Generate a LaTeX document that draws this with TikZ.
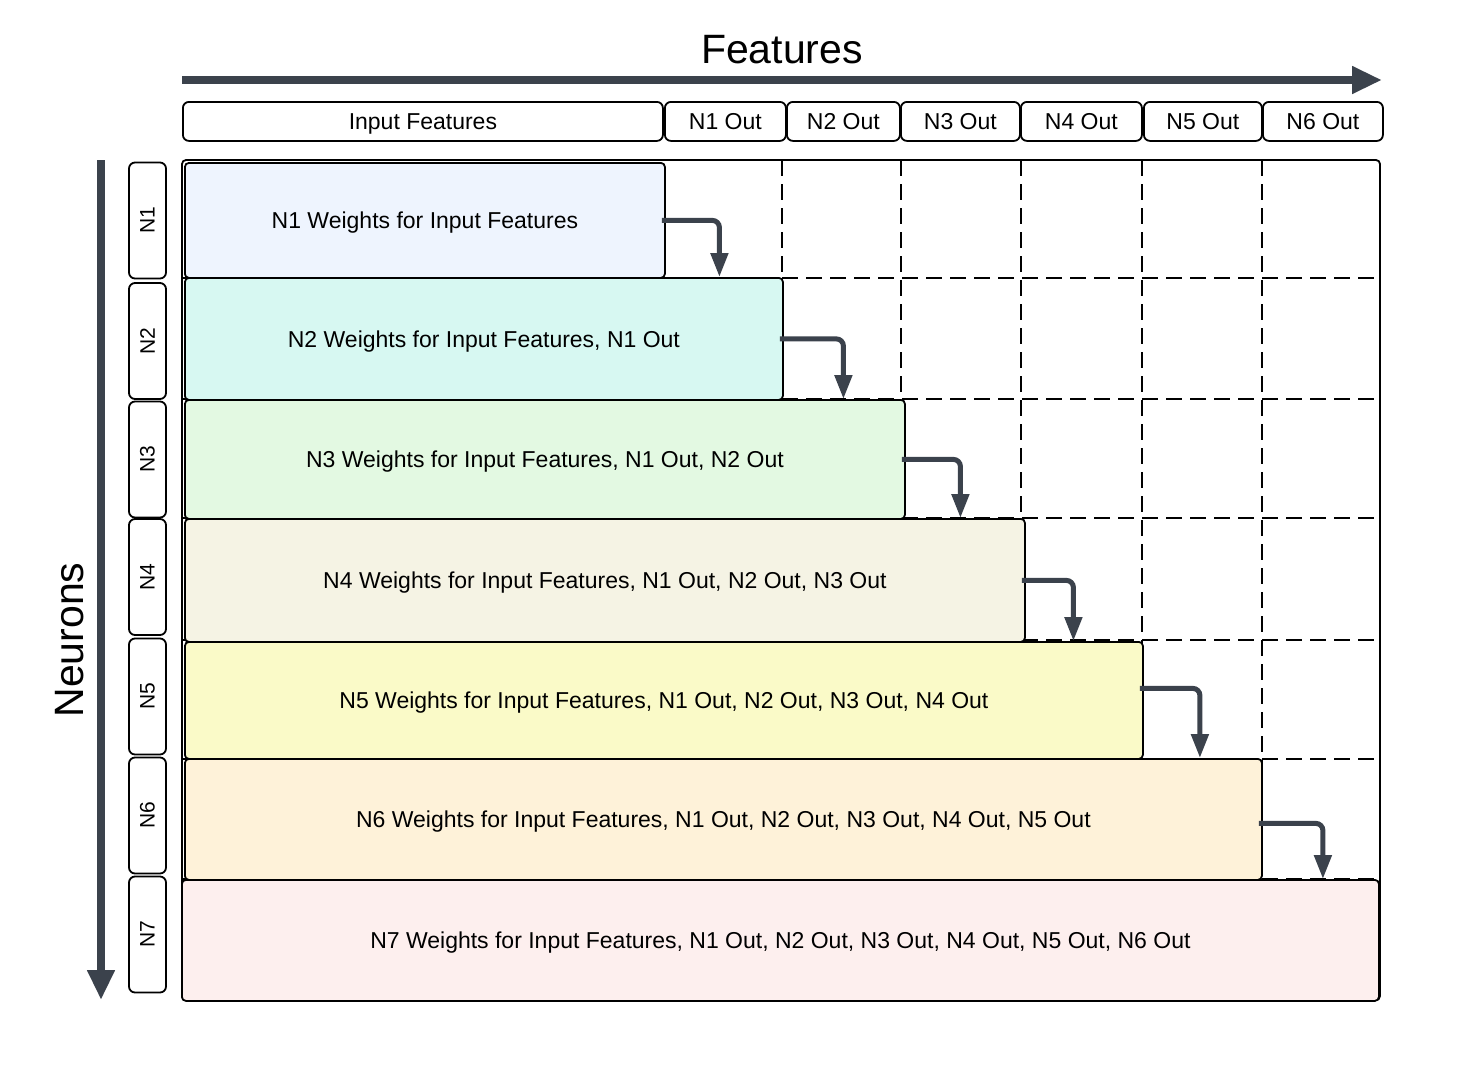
\documentclass[tikz,border=0pt]{standalone}
\usepackage{fontspec}
\setmainfont{Liberation Sans}
\usetikzlibrary{arrows.meta}
\definecolor{ink}{HTML}{3B424C}
\definecolor{fillA}{HTML}{EEF4FE}
\definecolor{fillB}{HTML}{D7F8F2}
\definecolor{fillC}{HTML}{E3F9E2}
\definecolor{fillD}{HTML}{F5F3E4}
\definecolor{fillE}{HTML}{FAFAC8}
\definecolor{fillF}{HTML}{FEF2D9}
\definecolor{fillG}{HTML}{FDEFEE}
\tikzset{
  hbox/.style={draw,line width=1.8pt,rounded corners=6pt,inner sep=0pt,anchor=north west,
    minimum height=39pt,text depth=0pt,font=\fontsize{23}{27}\selectfont},
  rowbox/.style={draw,line width=1.8pt,rounded corners=4pt,inner sep=0pt,anchor=north west,
    text depth=0pt,font=\fontsize{23}{27}\selectfont},
  lbox/.style={draw,line width=1.8pt,rounded corners=6pt,inner sep=0pt,rotate=90,
    minimum width=116pt,minimum height=37pt,font=\fontsize{21}{25}\selectfont},
  axis/.style={ink,line width=8pt,-{Triangle[length=30pt,width=26pt]}},
  flow/.style={ink,line width=5pt,rounded corners=7pt,-{Triangle[length=24pt,width=17pt]}},
  gridline/.style={line width=1.3pt,dash pattern=on 16pt off 8pt}
}
\begin{document}
\begin{tikzpicture}[x=1pt,y=-1pt]
\useasboundingbox (0,0) rectangle (1464,1087);
% axes
\coordinate (fa) at (182,80);
\coordinate (fb) at (1382,80);
\draw [axis] (fa) -- (fb);
\node [font=\fontsize{41}{47}\selectfont] (ftitle) at (782,50) {Features};
\coordinate (na) at (101,160);
\coordinate (nb) at (101,1000);
\draw [axis] (na) -- (nb);
\node [font=\fontsize{41}{47}\selectfont,rotate=90] (ntitle) at (70,640) {Neurons};
% header
\node [hbox,minimum width=480pt] (h0) at (182,101) {Input Features};
\node [hbox,minimum width=121pt] (h1) at (664,101) {N1 Out};
\node [hbox,minimum width=113pt] (h2) at (786,101) {N2 Out};
\node [hbox,minimum width=119pt] (h3) at (900,101) {N3 Out};
\node [hbox,minimum width=121pt] (h4) at (1020,101) {N4 Out};
\node [hbox,minimum width=118pt] (h5) at (1143,101) {N5 Out};
\node [hbox,minimum width=120pt] (h6) at (1262,101) {N6 Out};
% grid
\draw [line width=1.8pt,rounded corners=4pt] (182,160) rectangle (1380,1000);
\draw [gridline] (782,160) -- (782,1000);
\draw [gridline] (901,160) -- (901,1000);
\draw [gridline] (1021,160) -- (1021,1000);
\draw [gridline] (1142,160) -- (1142,1000);
\draw [gridline] (1262,160) -- (1262,1000);
\draw [gridline] (182,278) -- (1380,278);
\draw [gridline] (182,399) -- (1380,399);
\draw [gridline] (182,518) -- (1380,518);
\draw [gridline] (182,640) -- (1380,640);
\draw [gridline] (182,759) -- (1380,759);
\draw [gridline] (182,879) -- (1380,879);
% neuron labels
\node [lbox] (l1) at (147.5,220.5) {N1};
\node [lbox] (l2) at (147.5,341) {N2};
\node [lbox] (l3) at (147.5,459.5) {N3};
\node [lbox] (l4) at (147.5,577) {N4};
\node [lbox] (l5) at (147.5,696.5) {N5};
\node [lbox] (l6) at (147.5,815.5) {N6};
\node [lbox] (l7) at (147.5,934.5) {N7};
% weight rows
\node [rowbox,fill=fillA,minimum width=480pt,minimum height=115pt] (r1) at (184,162)
  {N1 Weights for Input Features};
\node [rowbox,fill=fillB,minimum width=598pt,minimum height=122pt] (r2) at (184,277)
  {N2 Weights for Input Features, N1 Out};
\node [rowbox,fill=fillC,minimum width=720pt,minimum height=119pt] (r3) at (184,399)
  {N3 Weights for Input Features, N1 Out, N2 Out};
\node [rowbox,fill=fillD,minimum width=840pt,minimum height=123pt] (r4) at (184,518)
  {N4 Weights for Input Features, N1 Out, N2 Out, N3 Out};
\node [rowbox,fill=fillE,minimum width=958pt,minimum height=117pt] (r5) at (184,641)
  {N5 Weights for Input Features, N1 Out, N2 Out, N3 Out, N4 Out};
\node [rowbox,fill=fillF,minimum width=1077pt,minimum height=121pt] (r6) at (184,758)
  {N6 Weights for Input Features, N1 Out, N2 Out, N3 Out, N4 Out, N5 Out};
\node [rowbox,fill=fillG,minimum width=1197pt,minimum height=121pt] (r7) at (181,879)
  {N7 Weights for Input Features, N1 Out, N2 Out, N3 Out, N4 Out, N5 Out, N6 Out};
% outputs feeding the next neuron
\draw [flow] ([xshift=-4pt]r1.east) -| ([xshift=-6pt]r2.north -| h1);
\draw [flow] ([xshift=-4pt]r2.east) -| (r3.north -| h2);
\draw [flow] ([xshift=-4pt]r3.east) -| (r4.north -| h3);
\draw [flow] ([xshift=-4pt]r4.east) -| ([xshift=-8pt]r5.north -| h4);
\draw [flow] ([xshift=-4pt,yshift=12pt]r5.east) -| ([xshift=-3pt]r6.north -| h5);
\draw [flow] ([xshift=-4pt,yshift=-4pt]r6.east) -| (r7.north -| h6);
\end{tikzpicture}
\end{document}
